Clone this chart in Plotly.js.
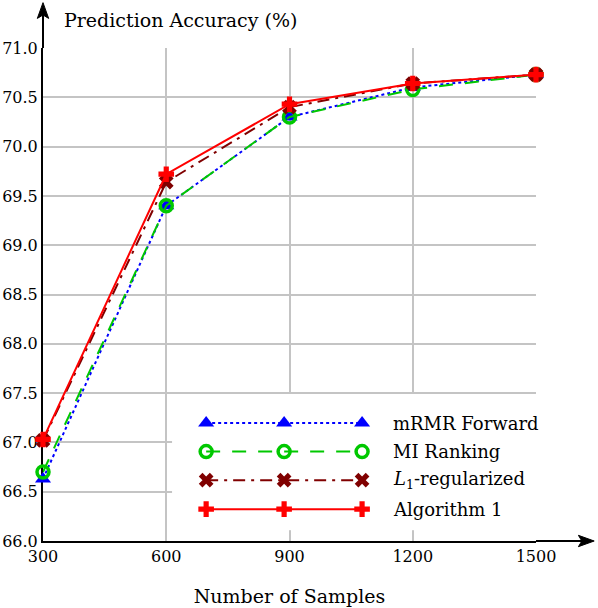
<!DOCTYPE html>
<html>
<head>
<meta charset="utf-8">
<script src="https://cdn.plot.ly/plotly-3.0.1.min.js"></script>
<style>html,body{margin:0;padding:0;background:#fff;}</style>
</head>
<body>
<div id="chart" style="width:598px;height:608px;"></div>
<script>
// ---- data ----
var samples = [300, 600, 900, 1200, 1500];
var mrmrForward = [66.63, 69.40, 70.30, 70.60, 70.73];
var miRanking = [66.70, 69.40, 70.30, 70.58, 70.73];
var l1Regularized = [67.02, 69.64, 70.40, 70.64, 70.73];
var algorithm1 = [67.03, 69.72, 70.43, 70.64, 70.73];
var seriesNames = ['mRMR Forward', 'MI Ranking', '<i>L</i><sub>1</sub>-regularized', 'Algorithm 1'];
var xTickVals = [300, 600, 900, 1200, 1500];
var yTickVals = [66.0, 66.5, 67.0, 67.5, 68.0, 68.5, 69.0, 69.5, 70.0, 70.5, 71.0];

var FONT = 'DejaVu Serif, serif';
var styles = [
  {line: {color: '#0000ff', width: 2, dash: 'dot'}, marker: {symbol: 'triangle-up', size: 14, color: '#0000ff'}},
  {line: {color: '#00c800', width: 2, dash: '14px,12px'}, marker: {symbol: 'circle-open', size: 12, color: '#00c800', line: {width: 3.5, color: '#00c800'}}},
  {line: {color: '#800000', width: 2, dash: '12px,6px,3px,6px'}, marker: {symbol: 'x', size: 13, color: '#800000'}},
  {line: {color: '#ff0000', width: 2, dash: 'solid'}, marker: {symbol: 'cross', size: 13, color: '#ff0000'}}
];
var values = [mrmrForward, miRanking, l1Regularized, algorithm1];

var traces = [];
values.forEach(function (v, i) {
  traces.push({
    type: 'scatter', mode: 'lines+markers', x: samples, y: v, name: seriesNames[i],
    line: styles[i].line, marker: styles[i].marker, cliponaxis: false, showlegend: false,
    xaxis: 'x', yaxis: 'y'
  });
});

// custom legend (long sample lines with three markers each), drawn in a hidden overlay subplot
var legX = [206, 284, 362];   // pixel-like coords of the overlay axes
var legRows = [423, 451.5, 480, 509];
values.forEach(function (v, i) {
  traces.push({
    type: 'scatter', mode: 'lines+markers', x: legX, y: [legRows[i], legRows[i], legRows[i]],
    line: styles[i].line, marker: styles[i].marker, cliponaxis: false, showlegend: false,
    hoverinfo: 'skip', xaxis: 'x2', yaxis: 'y2'
  });
});

var annotations = [
  {xref: 'paper', yref: 'paper', x: 0.038, y: 1.056, xanchor: 'left', yanchor: 'middle',
   text: 'Prediction Accuracy (%)', showarrow: false, font: {family: FONT, size: 19, color: '#000'}}
];
seriesNames.forEach(function (n, i) {
  annotations.push({xref: 'x2', yref: 'y2', x: 391, y: legRows[i], xanchor: 'left', yanchor: 'middle',
    text: n, showarrow: false, font: {family: FONT, size: 18, color: '#000'}});
});

var layout = {
  width: 598, height: 608,
  margin: {l: 43, r: 62, t: 48, b: 67, pad: 0},
  paper_bgcolor: '#fff', plot_bgcolor: '#fff',
  showlegend: false,
  font: {family: FONT, size: 16, color: '#000'},
  xaxis: {
    range: [300, 1500], tickvals: xTickVals, ticktext: xTickVals.map(String),
    showgrid: true, gridcolor: '#c4c4c4', gridwidth: 2, zeroline: false,
    showline: true, linecolor: '#000', linewidth: 2, layer: 'below traces', ticks: '',
    tickfont: {family: FONT, size: 16}, fixedrange: true,
    title: {text: 'Number of Samples', font: {family: FONT, size: 19}, standoff: 24}
  },
  yaxis: {
    range: [66, 71], tickvals: yTickVals, ticktext: yTickVals.map(function (t) { return t.toFixed(1); }),
    showgrid: true, gridcolor: '#c4c4c4', gridwidth: 2, zeroline: false,
    showline: true, linecolor: '#000', linewidth: 2, layer: 'below traces', ticks: '',
    tickfont: {family: FONT, size: 16}, fixedrange: true
  },
  xaxis2: {domain: [0.262, 1], range: [172, 536], visible: false, fixedrange: true},
  yaxis2: {domain: [0.022, 0.298], range: [530, 394], visible: false, fixedrange: true},
  shapes: [
    {type: 'rect', xref: 'x2', yref: 'y2', x0: 172, x1: 540, y0: 394, y1: 530,
     fillcolor: '#fff', line: {width: 0}, layer: 'below'},
    // axis extensions with arrow heads
    {type: 'line', xref: 'paper', yref: 'paper', x0: 0, x1: 0, y0: 1, y1: 1.075,
     line: {color: '#000', width: 2}, layer: 'above'},
    {type: 'path', xref: 'paper', yref: 'paper',
     path: 'M 0 1.092 L -0.0115 1.060 L 0 1.067 L 0.0115 1.060 Z',
     fillcolor: '#000', line: {color: '#000', width: 1}, layer: 'above'},
    {type: 'line', xref: 'paper', yref: 'paper', x0: 1, x1: 1.10, y0: 0, y1: 0,
     line: {color: '#000', width: 2}, layer: 'above'},
    {type: 'path', xref: 'paper', yref: 'paper',
     path: 'M 1.118 0 L 1.086 0.0115 L 1.093 0 L 1.086 -0.0115 Z',
     fillcolor: '#000', line: {color: '#000', width: 1}, layer: 'above'}
  ],
  annotations: annotations
};

Plotly.newPlot('chart', traces, layout, {displayModeBar: false, staticPlot: true});
</script>
</body>
</html>
